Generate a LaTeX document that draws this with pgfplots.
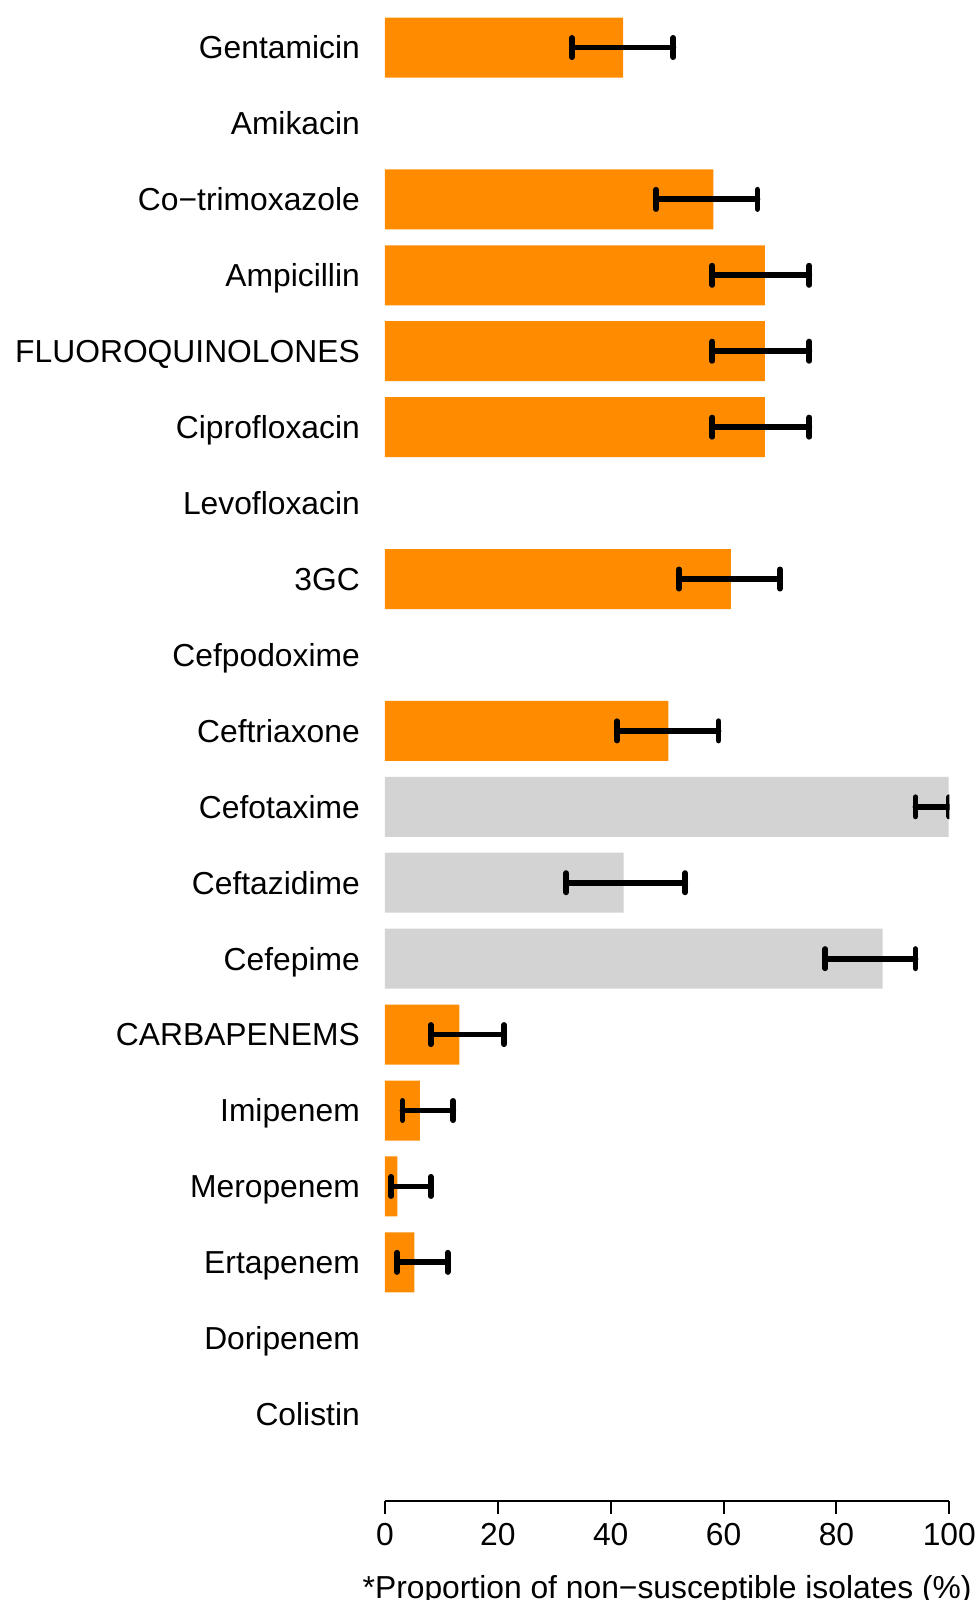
\documentclass[border=0pt]{standalone}
\usepackage{fontspec}
\setmainfont{Liberation Sans}
\usepackage{pgfplots}
\pgfplotsset{compat=1.18}
\definecolor{barorange}{HTML}{FF8C00}
\definecolor{bargrey}{HTML}{D3D3D3}
\newcommand{\lab}{\fontsize{7.95}{9}\selectfont}
\pgfplotsset{
  errx/.style={
    error bars/x dir=both, error bars/x explicit,
    error bars/error mark=|,
    error bars/error bar style={line width=1.45pt, line cap=round, black},
    error bars/error mark options={line width=1.45pt, line cap=round, mark size=2.4pt, black},
  },
}
\begin{document}
\begin{tikzpicture}
\begin{axis}[
  scale only axis,
  width=141.08pt, height=375.18pt,
  xmin=0, xmax=100,
  ymin=-1.139, ymax=18.626,
  xbar, bar width=15pt, bar shift=0pt,
  axis x line*=bottom, axis y line*=left,
  x axis line style={-, line width=0.5pt},
  y axis line style={draw=none},
  xtick={0,20,...,100},
  ytick={0,...,18},
  yticklabels={Colistin, Doripenem, Ertapenem, Meropenem, Imipenem, CARBAPENEMS,
    Cefepime, Ceftazidime, Cefotaxime, Ceftriaxone, Cefpodoxime, 3GC,
    Levofloxacin, Ciprofloxacin, FLUOROQUINOLONES, Ampicillin,
    Co\textminus trimoxazole, Amikacin, Gentamicin},
  tick align=outside,
  major tick length=3.2pt,
  xtick style={line width=0.5pt, black},
  ytick style={draw=none},
  /pgf/number format/assume math mode=true,
  tick label style={font=\lab},
  xticklabel style={anchor=north, inner sep=0pt, yshift=-2.25pt},
  yticklabel style={anchor=base east, inner sep=0pt, xshift=-2.9pt, yshift=-2.85pt},
  xlabel={*Proportion of non\textminus susceptible isolates (\%)},
  xlabel style={font=\lab, at={(axis description cs:0.5,0)}, anchor=base, inner sep=0pt, yshift=-24.4pt},
]
\addplot[fill=barorange, draw=none, errx] coordinates {
  (42.2,18) += (8.9,0) -= (9.1,0)
  (58.2,16) += (7.8,0) -= (10.2,0)
  (67.3,15) += (7.9,0) -= (9.3,0)
  (67.3,14) += (7.9,0) -= (9.3,0)
  (67.3,13) += (7.9,0) -= (9.3,0)
  (61.3,11) += (8.7,0) -= (9.2,0)
  (50.2,9)  += (8.9,0) -= (9.1,0)
  (13.2,5)  += (7.9,0) -= (5.1,0)
  (6.2,4)   += (5.9,0) -= (3.1,0)
  (2.2,3)   += (5.9,0) -= (1.1,0)
  (5.2,2)   += (5.9,0) -= (3.1,0)
};
\addplot[fill=bargrey, draw=none, errx] coordinates {
  (99.9,8) += (0.1,0) -= (5.9,0)
  (42.3,7) += (10.9,0) -= (10.2,0)
  (88.2,6) += (5.8,0) -= (10.2,0)
};
\end{axis}
\pgfresetboundingbox
\path[use as bounding box] (-96.25pt,-24.825pt) rectangle (148.5pt,375.175pt);
\end{tikzpicture}
\end{document}
